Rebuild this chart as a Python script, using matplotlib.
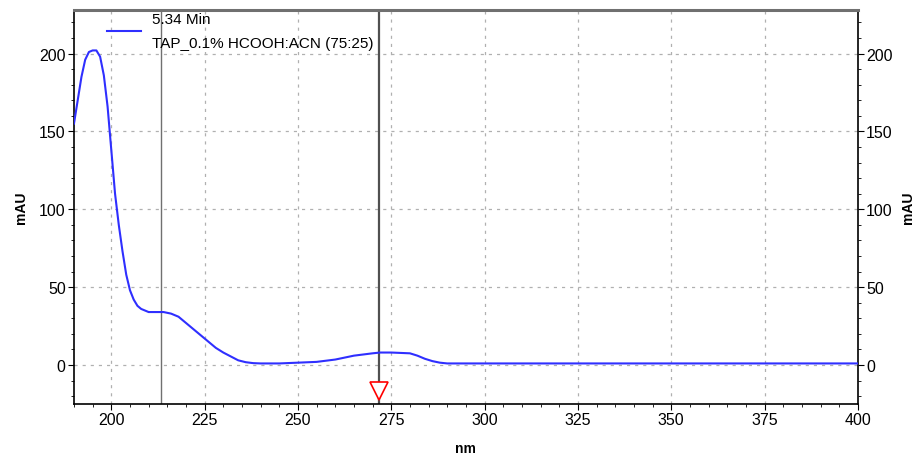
import numpy as np
import matplotlib.pyplot as plt
from matplotlib.ticker import MultipleLocator

# spectrum (nm, mAU)
wavelength = [190, 191, 192, 193, 194, 195, 196, 197, 198, 199, 200, 201,
              202, 203, 204, 205, 206, 207, 208, 209, 210, 212, 214, 216,
              218, 220, 222, 224, 226, 228, 230, 232, 234, 236, 238, 240,
              245, 250, 255, 260, 265, 270, 272, 275, 280, 282, 284, 286,
              288, 290, 300, 325, 350, 375, 400]
absorbance = [155, 170, 185, 196, 201, 202, 202, 198, 186, 166, 138, 110,
              90, 73, 58, 48, 42, 38, 36, 35, 34, 34, 34, 33,
              31, 27, 23, 19, 15, 11, 8, 5.5, 3, 1.8, 1.2, 1,
              1, 1.5, 2, 3.5, 6, 7.5, 8, 8, 7.5, 6, 4, 2.5,
              1.5, 1, 1, 1, 1, 1, 1]

cursor_lines = [213.4, 271.6]
marker_nm = 271.6
legend_lines = ["5.34 Min", "TAP_0.1% HCOOH:ACN (75:25)"]

plt.rcParams['font.family'] = ['Liberation Sans', 'DejaVu Sans']

fig = plt.figure(figsize=(9.19, 4.56), dpi=100)
ax = fig.add_axes([0.0805, 0.112, 0.853, 0.864])

ax.plot(wavelength, absorbance, color='#2f2fff', lw=1.5,
        label="\n".join(legend_lines), zorder=3)

ax.axvline(cursor_lines[0], color='#707070', lw=1.0, zorder=2)
ax.axvline(cursor_lines[1], color='#505050', lw=1.6, zorder=2)
ax.plot([marker_nm], [-17], marker='v', markersize=13, mfc='white',
        mec='red', mew=1.2, ls='none', zorder=5, clip_on=False)

ax.set_xlim(190, 400)
ax.set_ylim(-25, 228)
ax.xaxis.set_major_locator(MultipleLocator(25))
ax.xaxis.set_minor_locator(MultipleLocator(5))
ax.yaxis.set_major_locator(MultipleLocator(50))
ax.yaxis.set_minor_locator(MultipleLocator(10))

ax.grid(True, which='major', ls=(0, (2.5, 4)), color='#b0b0b0', lw=0.9)

ax.tick_params(which='both', direction='out', labelsize=11.5,
               left=True, right=True, labelleft=True, labelright=True,
               bottom=True, top=False, pad=2)
ax.tick_params(which='major', length=4)
ax.tick_params(which='minor', length=2.5)

for s in ['left', 'right', 'bottom']:
    ax.spines[s].set_linewidth(1.2)
ax.spines['top'].set_color('#707070')
ax.spines['top'].set_linewidth(2.2)

ax.set_xlabel("nm", fontsize=10, fontweight='bold', labelpad=10)
ax.set_ylabel("mAU", fontsize=10, fontweight='bold', labelpad=8)
ax2 = ax.secondary_yaxis('right')
ax2.set_yticks([])
ax2.set_ylabel("mAU", fontsize=10, fontweight='bold', labelpad=31)
ax2.spines['right'].set_visible(False)

leg = ax.legend(loc='upper left', bbox_to_anchor=(0.025, 1.03), frameon=False,
                fontsize=11, handlelength=2.2, handletextpad=0.7)
for t in leg.get_texts():
    t.set_linespacing(1.9)

fig.savefig("out.png", dpi=100)
